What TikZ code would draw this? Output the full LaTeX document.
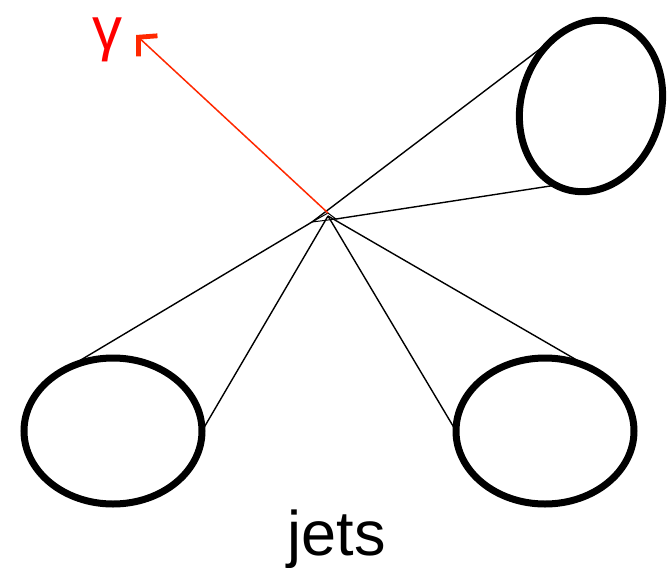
\documentclass[tikz,border=0pt]{standalone}
\usepackage{fontspec}
\setmainfont{Liberation Sans}
\usetikzlibrary{shapes.geometric,arrows.meta}
\definecolor{photon}{RGB}{255,40,0}
\definecolor{glabel}{RGB}{255,0,0}
\begin{document}
\begin{tikzpicture}[x=1pt,y=-1pt,
  jet/.style={draw, ellipse, line width=7pt, inner sep=0pt, outer sep=0pt},
  cone/.style={line width=1.4pt},
  photonarrow/.style={draw=photon, line width=1.5pt, -{Straight Barb[length=13pt,width=28pt,line width=4.8pt]}},
]
\useasboundingbox (0,0) rectangle (670,568);
% jets
\node[jet, minimum width=178pt, minimum height=146pt] (bl) at (113,431) {};
\node[jet, minimum width=178pt, minimum height=146pt] (br) at (545,431) {};
\node[jet, minimum width=140pt, minimum height=174pt, rotate=-17] (tr) at (591,106) {};
% vertex
\coordinate (vl) at (312,222);
\coordinate (vt) at (328,213);
\coordinate (vr) at (336,219);
\coordinate (O) at (328,216);
\draw[line width=1pt] (vl) -- (vt) -- (vr) -- cycle;
% cones
\draw[cone] (vl) -- (tr.132);
\draw[cone] (vr) -- (tr.263);
\draw[cone] (vl) -- (bl.131);
\draw[cone] (O) -- (bl.east);
\draw[cone] (O) -- (br.west);
\draw[cone] (O) -- (br.50);
% photon
\coordinate (ptip) at (136,35);
\draw[photonarrow] (vt) -- (ptip);
\node[text=glabel, font=\fontsize{60}{64}\selectfont, inner sep=0pt, anchor=base] (gl) at (107,49) {γ};
% label
\node[font=\fontsize{63}{70}\selectfont, inner sep=0pt, anchor=base] (jl) at (337,555) {jets};
\end{tikzpicture}
\end{document}
